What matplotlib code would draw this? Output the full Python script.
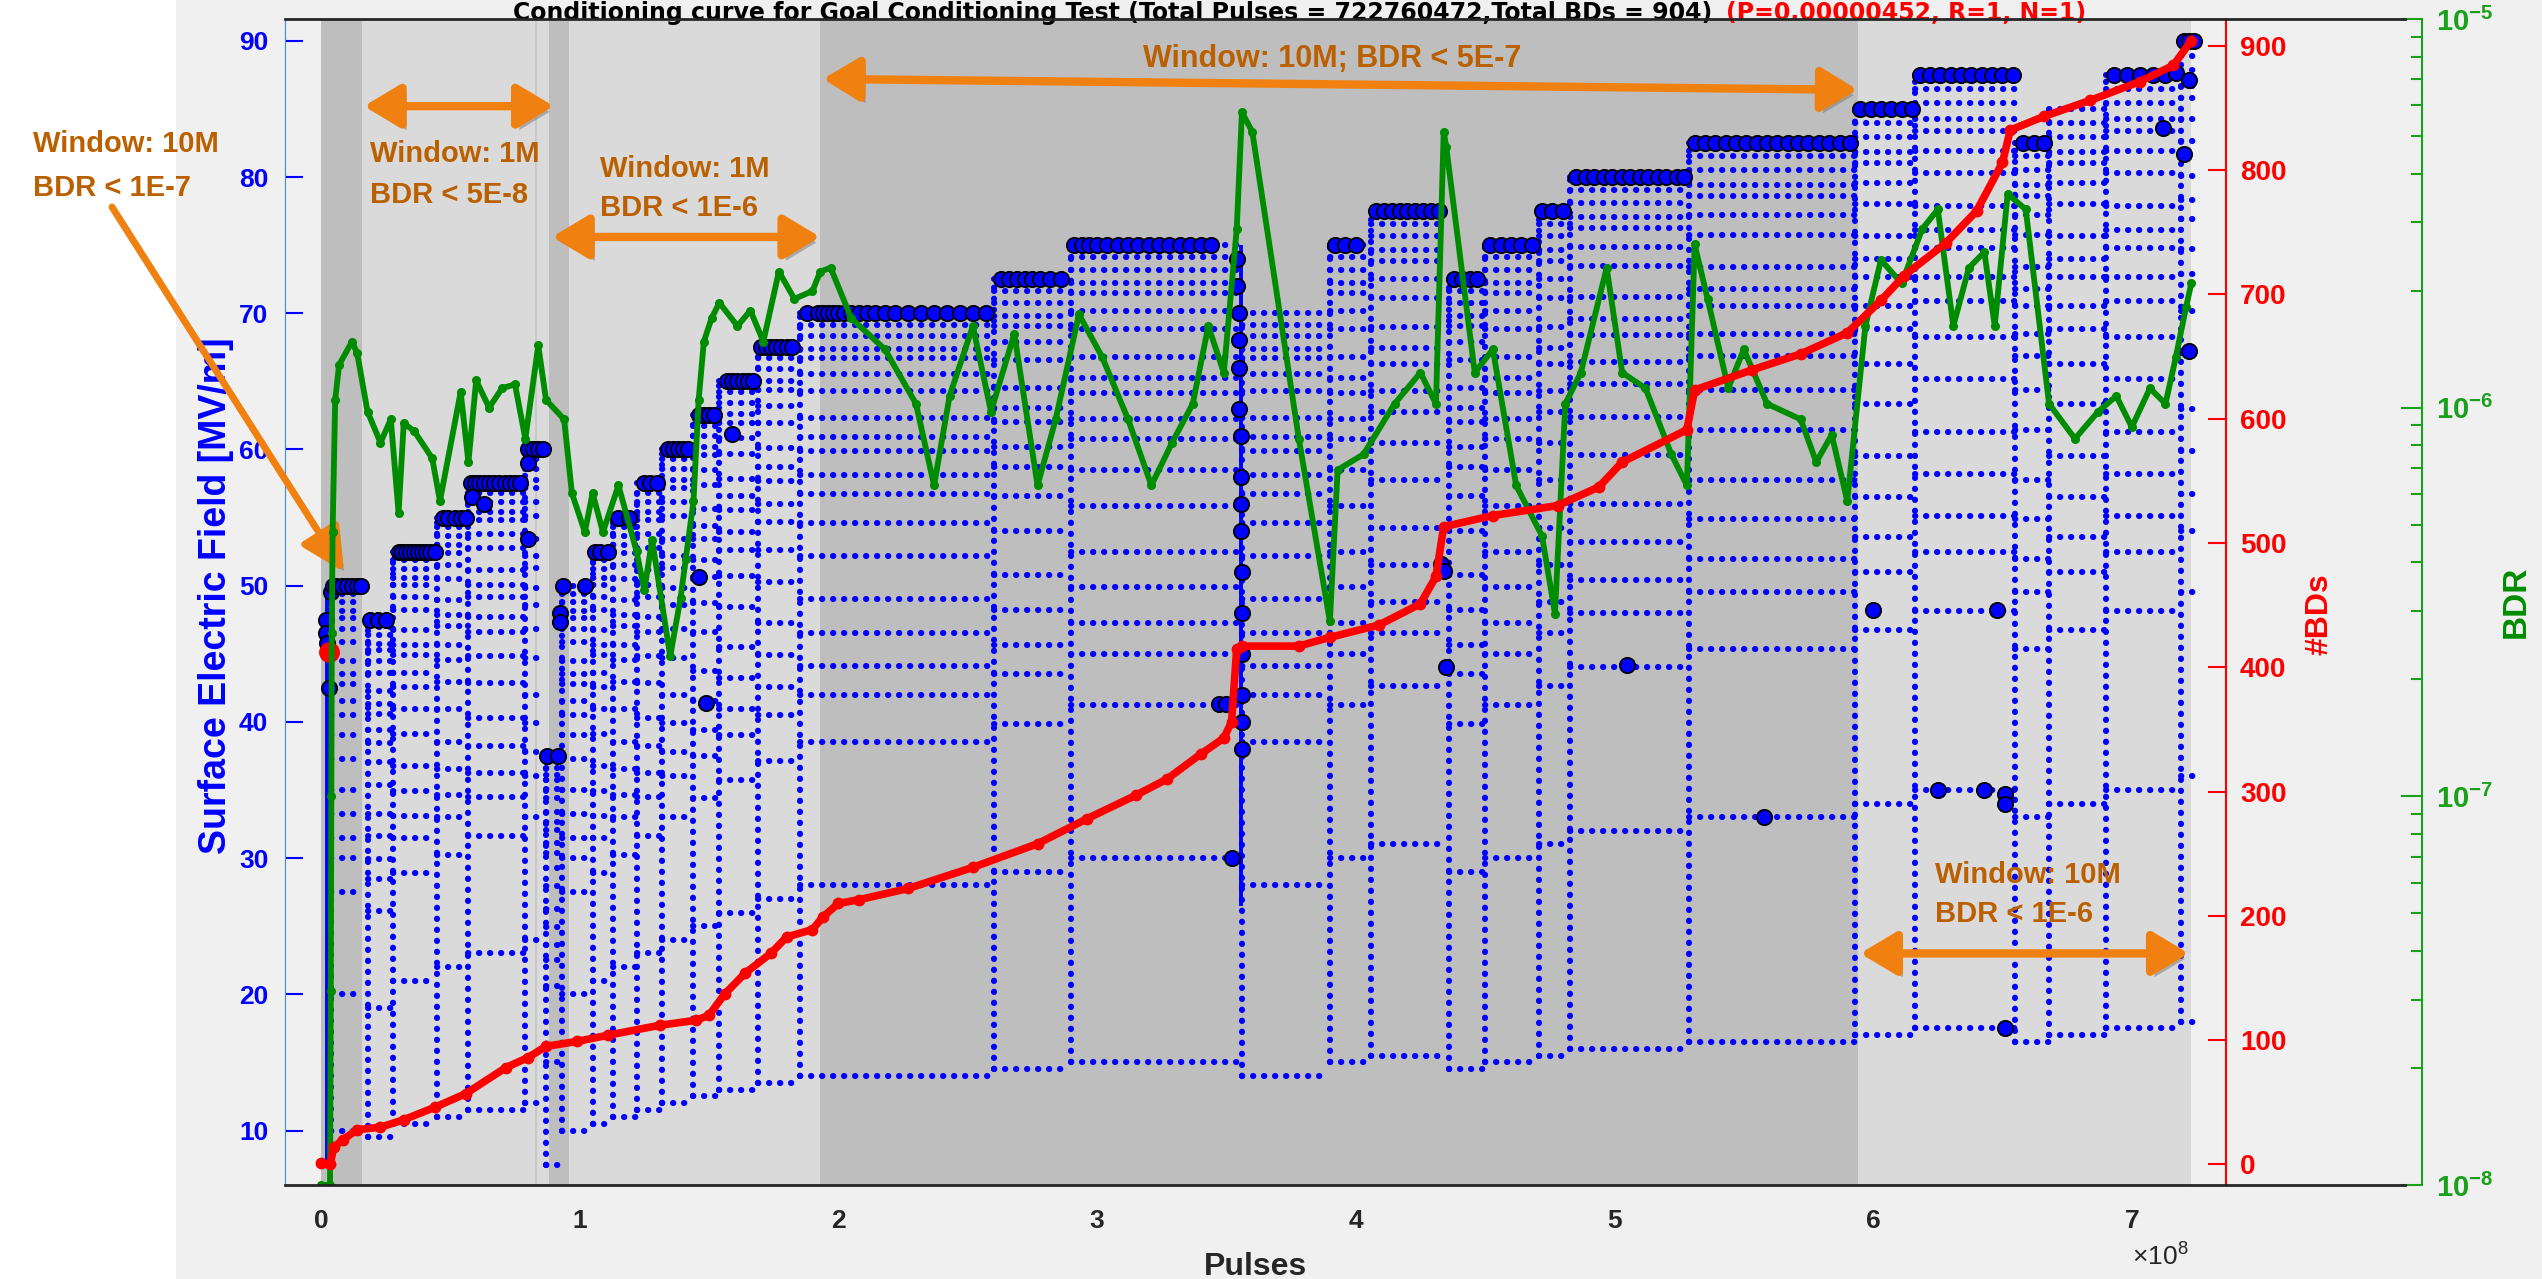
import numpy as np
import matplotlib
matplotlib.use("Agg")
import matplotlib.pyplot as plt
from matplotlib import patheffects as pe
from matplotlib.lines import Line2D
from matplotlib.patches import Rectangle
from matplotlib.ticker import FuncFormatter

plt.rcParams['font.family'] = ['Liberation Sans', 'DejaVu Sans']
plt.rcParams['mathtext.fontset'] = 'custom'
plt.rcParams['mathtext.rm'] = 'Liberation Sans'
plt.rcParams['mathtext.bf'] = 'Liberation Sans:bold'

W, H = 2542, 1279

# ---- data (pulses in units of 1e8) ----
shade_x0 = [0.0, 0.16, 0.88, 0.96, 1.93, 5.94]
shade_x1 = [0.16, 0.88, 0.96, 1.93, 5.94, 7.23]
shade_kind = ['dark', 'light', 'dark', 'light', 'dark', 'light']

# set-point staircase of the surface field
seg_start = [0.04, 0.18, 0.28, 0.45, 0.57, 0.79, 0.87, 0.93, 1.05, 1.13, 1.22, 1.32, 1.44,
             1.54, 1.69, 1.85, 2.60, 2.90, 3.56, 3.90, 4.06, 4.36, 4.50, 4.71, 4.83, 5.29,
             5.93, 6.16, 6.55, 6.68, 6.90, 7.19]
seg_end = [0.155, 0.27, 0.45, 0.57, 0.79, 0.87, 0.93, 1.05, 1.13, 1.22, 1.32, 1.44, 1.54,
           1.69, 1.85, 2.60, 2.90, 3.55, 3.90, 4.06, 4.35, 4.50, 4.71, 4.83, 5.29, 5.93,
           6.16, 6.55, 6.68, 6.90, 7.19, 7.24]
seg_level = [50, 47.5, 52.5, 55, 57.5, 60, 37.5, 50, 52.5, 55, 57.5, 60, 62.5, 65, 67.5, 70,
             72.5, 75, 70, 75, 77.5, 72.5, 75, 77.5, 80, 82.5, 85, 87.5, 82.5, 85, 87.5, 90]
# ramp levels seen below each set-point (fraction of set-point)
ramp_frac = [0.2, 0.4, 0.55, 0.6, 0.63, 0.665, 0.70, 0.745, 0.78, 0.81, 0.83, 0.855, 0.87,
             0.89, 0.918, 0.936, 0.953, 0.963, 0.976, 0.988, 1.0]

drop_x = [0.025, 3.555]
drop_lo = [7.5, 26.5]
drop_hi = [50, 75]

bd_x = [0.02, 0.02, 0.025, 0.03, 0.04, 0.045, 0.06, 0.08, 0.10, 0.12, 0.14, 0.155,
        0.19, 0.22, 0.25,
        0.30, 0.315, 0.33, 0.345, 0.36, 0.375, 0.39, 0.405, 0.42, 0.44,
        0.47, 0.49, 0.52, 0.54, 0.56,
        0.58, 0.595, 0.61, 0.63, 0.65, 0.67, 0.69, 0.71, 0.73, 0.75, 0.77, 0.585, 0.63,
        0.80, 0.82, 0.84, 0.86, 0.80, 0.80,
        0.875, 0.915, 0.925, 0.925, 0.935, 1.02,
        1.06, 1.08, 1.11, 1.15, 1.19, 1.25, 1.27, 1.30,
        1.34, 1.36, 1.38, 1.40, 1.42, 1.46, 1.48, 1.50, 1.52,
        1.57, 1.59, 1.61, 1.63, 1.65, 1.67, 1.70, 1.72, 1.74, 1.76, 1.78, 1.80, 1.82,
        1.59, 1.46, 1.49,
        1.88, 1.92, 1.94, 1.96, 1.98, 2.0, 2.02, 2.05, 2.08, 2.11, 2.14, 2.18, 2.22, 2.27,
        2.32, 2.37, 2.42, 2.47, 2.52, 2.57,
        2.63, 2.66, 2.69, 2.72, 2.75, 2.78, 2.82, 2.86,
        2.91, 2.94, 2.97, 3.0, 3.04, 3.08, 3.12, 3.16, 3.2, 3.24, 3.28, 3.32, 3.36, 3.4, 3.44,
        3.54, 3.54, 3.55, 3.55, 3.55, 3.55, 3.555, 3.555, 3.555, 3.555, 3.56, 3.56, 3.56,
        3.56, 3.56, 3.56, 3.52, 3.47, 3.50,
        3.92, 3.96, 4.0,
        4.08, 4.11, 4.14, 4.17, 4.2, 4.23, 4.26, 4.29, 4.32,
        4.33, 4.34, 4.35, 4.38, 4.41, 4.44, 4.47,
        4.52, 4.56, 4.6, 4.64, 4.68, 4.72, 4.76, 4.80,
        4.85, 4.89, 4.92, 4.96, 4.99, 5.03, 5.06, 5.10, 5.13, 5.17, 5.20, 5.24, 5.27,
        5.31, 5.35, 5.39, 5.43, 5.47, 5.51, 5.55, 5.59, 5.63, 5.67, 5.71, 5.75, 5.79,
        5.83, 5.87, 5.91,
        5.95, 5.99, 6.03, 6.07, 6.11, 6.15,
        6.18, 6.22, 6.26, 6.30, 6.34, 6.38, 6.42, 6.46, 6.50, 6.54,
        5.05, 6.0, 6.48, 5.58, 6.25, 6.43, 6.51, 6.51, 6.51,
        6.58, 6.62, 6.66, 6.93, 6.98, 7.03, 7.08, 7.13,
        7.20, 7.22, 7.24, 7.17, 7.22, 7.12, 7.20, 7.22]
bd_y = [47.5, 46.5, 45.8, 42.5, 49.5, 50, 50, 50, 50, 50, 50, 50,
        47.5, 47.5, 47.5,
        52.5, 52.5, 52.5, 52.5, 52.5, 52.5, 52.5, 52.5, 52.5, 52.5,
        55, 55, 55, 55, 55,
        57.5, 57.5, 57.5, 57.5, 57.5, 57.5, 57.5, 57.5, 57.5, 57.5, 57.5, 56.5, 56.0,
        60, 60, 60, 60, 59, 53.4,
        37.5, 37.5, 48, 47.3, 50, 50,
        52.5, 52.5, 52.5, 55, 55, 57.5, 57.5, 57.5,
        60, 60, 60, 60, 60, 62.5, 62.5, 62.5, 62.5,
        65, 65, 65, 65, 65, 65, 67.5, 67.5, 67.5, 67.5, 67.5, 67.5, 67.5,
        61.1, 50.6, 41.4,
        70, 70, 70, 70, 70, 70, 70, 70, 70, 70, 70, 70, 70, 70,
        70, 70, 70, 70, 70, 70,
        72.5, 72.5, 72.5, 72.5, 72.5, 72.5, 72.5, 72.5,
        75, 75, 75, 75, 75, 75, 75, 75, 75, 75, 75, 75, 75, 75, 75,
        74, 72, 70, 68, 66, 63, 61, 58, 56, 54, 51, 48, 45,
        42, 40, 38, 30, 41.3, 41.3,
        75, 75, 75,
        77.5, 77.5, 77.5, 77.5, 77.5, 77.5, 77.5, 77.5, 77.5,
        51.6, 51.1, 44.0, 72.5, 72.5, 72.5, 72.5,
        75, 75, 75, 75, 75, 77.5, 77.5, 77.5,
        80, 80, 80, 80, 80, 80, 80, 80, 80, 80, 80, 80, 80,
        82.5, 82.5, 82.5, 82.5, 82.5, 82.5, 82.5, 82.5, 82.5, 82.5, 82.5, 82.5, 82.5,
        82.5, 82.5, 82.5,
        85, 85, 85, 85, 85, 85,
        87.5, 87.5, 87.5, 87.5, 87.5, 87.5, 87.5, 87.5, 87.5, 87.5,
        44.2, 48.2, 48.2, 33, 35, 35, 34.7, 34, 17.5,
        82.5, 82.5, 82.5, 87.5, 87.5, 87.5, 87.5, 87.5,
        90, 90, 90, 87.6, 87.1, 83.6, 81.7, 67.2]

# cumulative number of breakdowns
bds_x = [0.0, 0.035, 0.05, 0.085, 0.14, 0.23, 0.32, 0.44, 0.56, 0.715, 0.80, 0.87, 0.99,
         1.11, 1.31, 1.45, 1.50, 1.56, 1.64, 1.74, 1.80, 1.90, 1.94, 2.0, 2.08, 2.27, 2.52,
         2.77, 2.96, 3.15, 3.27, 3.40, 3.49, 3.52, 3.54, 3.56, 3.78, 3.90, 4.09, 4.25, 4.31,
         4.34, 4.53, 4.78, 4.94, 5.03, 5.28, 5.31, 5.53, 5.72, 5.90, 6.03, 6.12, 6.28, 6.40,
         6.50, 6.53, 6.66, 6.84, 7.03, 7.16, 7.23]
bds_y = [1, 0, 14, 20, 28, 30, 36, 46, 57, 78, 86, 95, 99, 104, 112, 116, 120, 137, 154,
         170, 183, 189, 199, 210, 213, 222, 239, 258, 278, 297, 310, 330, 343, 356, 415,
         417, 417, 424, 434, 451, 473, 513, 522, 530, 545, 565, 591, 623, 639, 652, 669,
         695, 715, 741, 767, 806, 832, 843, 856, 871, 884, 904]

# breakdown rate, read as log10(BDR)
bdr_x = [0.0, 0.035, 0.038, 0.04, 0.042, 0.045, 0.055, 0.07, 0.12, 0.14, 0.18, 0.23, 0.27,
         0.30, 0.32, 0.36, 0.43, 0.46, 0.54, 0.57, 0.60, 0.65, 0.70, 0.75, 0.79, 0.84, 0.87,
         0.94, 0.97, 1.02, 1.05, 1.09, 1.15, 1.22, 1.25, 1.28, 1.35, 1.39, 1.41, 1.44, 1.46,
         1.48, 1.51, 1.54, 1.61, 1.66, 1.71, 1.77, 1.83, 1.90, 1.93, 1.97, 2.05, 2.18, 2.30,
         2.37, 2.43, 2.52, 2.59, 2.68, 2.77, 2.84, 2.93, 3.02, 3.12, 3.21, 3.29, 3.37, 3.43,
         3.49, 3.54, 3.56, 3.60, 3.78, 3.90, 3.93, 4.03, 4.15, 4.25, 4.31, 4.34, 4.35, 4.46,
         4.53, 4.62, 4.72, 4.77, 4.81, 4.87, 4.97, 5.03, 5.12, 5.22, 5.28, 5.31, 5.36, 5.44,
         5.50, 5.59, 5.72, 5.78, 5.84, 5.90, 5.97, 6.03, 6.11, 6.19, 6.25, 6.31, 6.37, 6.43,
         6.47, 6.52, 6.59, 6.68, 6.78, 6.87, 6.94, 7.00, 7.07, 7.13, 7.17, 7.21, 7.23]
bdr_log = [-8.0, -8.0, -7.5, -7.0, -6.58, -6.32, -5.98, -5.89, -5.83, -5.86, -6.01, -6.09,
           -6.03, -6.27, -6.04, -6.06, -6.13, -6.24, -5.96, -6.14, -5.93, -6.0, -5.95, -5.94,
           -6.08, -5.84, -5.98, -6.03, -6.22, -6.32, -6.22, -6.32, -6.20, -6.37, -6.47,
           -6.34, -6.64, -6.49, -6.39, -6.24, -5.98, -5.83, -5.77, -5.73, -5.79, -5.75,
           -5.83, -5.65, -5.72, -5.70, -5.65, -5.64, -5.77, -5.85, -5.99, -6.20, -5.97,
           -5.79, -6.01, -5.81, -6.20, -6.03, -5.76, -5.87, -6.03, -6.20, -6.09, -5.99,
           -5.79, -5.91, -5.54, -5.24, -5.29, -6.08, -6.55, -6.16, -6.12, -5.99, -5.91,
           -5.99, -5.29, -5.33, -5.91, -5.85, -6.20, -6.33, -6.53, -5.99, -5.91, -5.64,
           -5.91, -5.95, -6.12, -6.20, -5.58, -5.72, -5.95, -5.85, -5.99, -6.03, -6.14,
           -6.07, -6.24, -5.79, -5.62, -5.68, -5.54, -5.49, -5.79, -5.64, -5.60, -5.79,
           -5.45, -5.49, -5.99, -6.08, -6.01, -5.97, -6.05, -5.95, -5.99, -5.87, -5.74,
           -5.68]

x_ticks = [0, 1, 2, 3, 4, 5, 6, 7]
field_ticks = [10, 20, 30, 40, 50, 60, 70, 80, 90]
bds_ticks = [0, 100, 200, 300, 400, 500, 600, 700, 800, 900]

title_main = "Conditioning curve for Goal Conditioning Test (Total Pulses = 722760472,Total BDs = 904)"
title_red = "(P=0.00000452, R=1, N=1)"

# ---- figure ----
BLUE = '#0000ff'
RED = '#ff0000'
GREEN = '#008c00'
GAXIS = '#1aa01a'
ORANGE = '#f08010'
OTEXT = '#bb6000'
DARK = '#262626'

fig = plt.figure(figsize=(W / 100, H / 100), dpi=100)
fig.patch.set_facecolor('#f0f0f0')
fig.add_artist(Rectangle((0, 0), 176 / W, 1, transform=fig.transFigure,
                         facecolor='white', edgecolor='none', zorder=-10))

L, R, T, B = 285, 2226, 19, 1185
ax = fig.add_axes([L / W, 1 - B / H, (R - L) / W, (B - T) / H])
ax.set_facecolor('#f0f0f0')
ax.set_xlim(-0.139, 7.364)
ax.set_ylim(6.0, 91.6)

for x0, x1, k in zip(shade_x0, shade_x1, shade_kind):
    ax.axvspan(x0, x1, color='#bebebe' if k == 'dark' else '#dadada', lw=0, zorder=0)
ax.axvline(0.83, color='#c4c4c4', lw=1.2, zorder=0.5)

# blue ramp rows, drawn as dotted chains
dots = dict(colors=BLUE, lw=4.4, linestyles=(0, (0.05, 1.75)), capstyle='round', zorder=2)
for s, e, lv in zip(seg_start, seg_end, seg_level):
    ys = [lv * f for f in ramp_frac]
    ax.hlines(ys, s, e, **dots)
    ax.vlines(s, min(ys), lv, **dots)
ax.vlines(drop_x, drop_lo, drop_hi, colors=BLUE, lw=2.8, zorder=2)
ax.plot(bd_x, bd_y, 'o', ms=11, mfc=BLUE, mec='black', mew=1.3, ls='none', zorder=3)
ax.plot([0.03], [45.1], 'o', ms=14, color=RED, zorder=3)

for sp in ['top', 'bottom', 'right']:
    ax.spines[sp].set_visible(False)
ax.spines['left'].set_color('#3c8ce0')
ax.set_yticks(field_ticks)
ax.tick_params(axis='y', direction='in', length=13, width=1.5, color=BLUE,
               labelcolor=BLUE, labelsize=19, pad=12)
ax.set_xticks(x_ticks)
ax.tick_params(axis='x', length=0, labelsize=19, labelcolor=DARK, pad=17)
for lab in ax.get_xticklabels() + ax.get_yticklabels():
    lab.set_fontweight('bold')
ax.set_ylabel('Surface Electric Field [MV/m]', color=BLUE, fontsize=27,
              fontweight='bold', va='center')
ax.yaxis.set_label_coords(-0.0355, 0.505)
ax.set_xlabel('Pulses', color=DARK, fontsize=23, fontweight='bold', labelpad=14)

# green BDR axis (log)
axg = ax.twinx()
axg.set_yscale('log')
axg.set_ylim(1e-8, 1e-5)
axg.plot(bdr_x, np.power(10.0, bdr_log), '-o', color=GREEN, lw=4.2, ms=5.5, zorder=4)
for sp in ['top', 'bottom', 'left']:
    axg.spines[sp].set_visible(False)
axg.spines['right'].set_position(('axes', (2422 - L) / (R - L)))
axg.spines['right'].set_color(GAXIS)
axg.spines['right'].set_linewidth(1.5)
axg.yaxis.set_major_formatter(FuncFormatter(
    lambda v, _: r'$\mathbf{10^{%d}}$' % int(round(np.log10(v)))))
axg.tick_params(axis='y', which='major', direction='in', length=15, width=1.5,
                color=GAXIS, labelcolor=GAXIS, labelsize=21, pad=10)
axg.tick_params(axis='y', which='minor', direction='in', length=8, width=1.5, color=GAXIS)
axg.text((2516 - L) / (R - L), 0.5, 'BDR', transform=axg.transAxes, rotation=90,
         ha='center', va='center', color=GREEN, fontsize=24, fontweight='bold')

# red #BDs axis
axr = ax.twinx()
axr.set_ylim(-16.5, 921.4)
axr.plot(bds_x, bds_y, '-o', color=RED, lw=5.5, ms=7.5, zorder=5)
for sp in ['top', 'bottom', 'left']:
    axr.spines[sp].set_visible(False)
axr.spines['right'].set_color(RED)
axr.spines['right'].set_linewidth(1.5)
axr.set_yticks(bds_ticks)
axr.tick_params(axis='y', direction='in', length=13, width=1.5, color=RED,
                labelcolor=RED, labelsize=20, pad=10)
for lab in axr.get_yticklabels():
    lab.set_fontweight('bold')
axr.text((2320 - L) / (R - L), 0.49, '#BDs', transform=axr.transAxes, rotation=90,
         ha='center', va='center', color=RED, fontsize=23, fontweight='bold')

# frame lines that run across to the BDR axis
for yy in (T, B):
    fig.add_artist(Line2D([L / W, 2405 / W], [1 - yy / H, 1 - yy / H], color=DARK, lw=2,
                          transform=fig.transFigure, zorder=6))

fig.text(2132 / W, 1 - 1256 / H, r'$\times10^{8}$', color=DARK, fontsize=19,
         ha='left', va='center')

# title, kept small enough to sit above the frame
title_kw = dict(va='top', fontsize=17, fontweight='bold', family=['DejaVu Sans'])
fig.text(1712 / W, 1 - 1 / H, title_main, ha='right', color='black', **title_kw)
fig.text(1726 / W, 1 - 1 / H, title_red, ha='left', color=RED, **title_kw)

# annotations
shadow = [pe.withSimplePatchShadow(offset=(3, -4), shadow_rgbFace='#777777', alpha=0.5)]
arrow_kw = dict(arrowstyle='<|-|>,head_length=1.0,head_width=0.6', color=ORANGE, lw=6,
                shrinkA=0, shrinkB=0, mutation_scale=22)
txt_kw = dict(color=OTEXT, fontsize=21, fontweight='bold')

arrows = [((0.166, 85.2), (0.90, 85.2)),
          ((0.893, 75.6), (1.93, 75.6)),
          ((1.94, 87.2), (5.94, 86.4)),
          ((5.95, 23.0), (7.22, 23.0))]
for a, b in arrows:
    an = ax.annotate('', xy=b, xytext=a, arrowprops=arrow_kw, zorder=7,
                     annotation_clip=False)
    an.arrow_patch.set_path_effects(shadow)

ax.text(0.19, 82.7, 'Window: 1M\nBDR < 5E-8', va='top', ha='left', zorder=7,
        linespacing=1.6, **txt_kw)
ax.text(1.08, 81.6, 'Window: 1M\nBDR < 1E-6', va='top', ha='left', zorder=7,
        linespacing=1.5, **txt_kw)
ax.text(3.91, 88.7, 'Window: 10M; BDR < 5E-7', va='center', ha='center', zorder=7,
        **dict(txt_kw, fontsize=22))
ax.text(6.24, 29.8, 'Window: 10M\nBDR < 1E-6', va='top', ha='left', zorder=7,
        linespacing=1.5, **txt_kw)

fig.text(33 / W, 1 - 130 / H, 'Window: 10M\nBDR < 1E-7', va='top', ha='left',
         linespacing=1.75, **txt_kw)
an = ax.annotate('', xy=(0.089, 51.0), xycoords='data',
                 xytext=(112 / W, 1 - 207 / H), textcoords='figure fraction',
                 arrowprops=dict(arrowstyle='-|>,head_length=1.2,head_width=0.6',
                                 color=ORANGE, lw=5, shrinkA=0, shrinkB=0,
                                 mutation_scale=22),
                 zorder=7, annotation_clip=False)
an.arrow_patch.set_path_effects(shadow)

fig.savefig('out.png', dpi=100, facecolor=fig.get_facecolor())
plt.close(fig)
